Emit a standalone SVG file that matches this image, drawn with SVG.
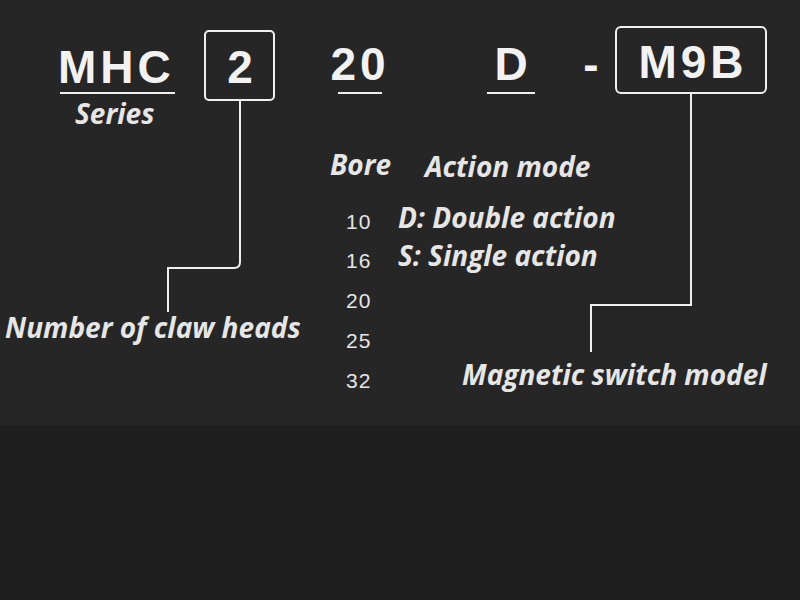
<svg xmlns="http://www.w3.org/2000/svg" width="800" height="600" viewBox="0 0 800 600">
<style>
.c{font-family:"Liberation Sans",Arial,sans-serif;font-weight:bold;fill:#f2f2f2;font-size:46px;letter-spacing:4px}
.l{font-family:"Open Sans","Liberation Sans",sans-serif;font-weight:bold;font-style:italic;fill:#e6e6e6;font-size:28px}
.n{font-family:"Liberation Sans",Arial,sans-serif;fill:#e6e6e6;font-size:21px;letter-spacing:1px}
.ln{stroke:#f0f0f0;stroke-width:2;fill:none}
</style>
<rect width="800" height="600" fill="#1f1f1f"/>
<rect width="800" height="425" fill="#262626"/>
<g id="code">
<text class="c" x="58" y="83">MHC</text>
<line class="ln" x1="60" y1="93" x2="175" y2="93"/>
<rect class="ln" x="205" y="31" width="69" height="69" rx="4"/>
<text class="c" x="242" y="83" text-anchor="middle">2</text>
<text class="c" x="360" y="80" text-anchor="middle">20</text>
<line class="ln" x1="338" y1="93" x2="382" y2="93"/>
<text class="c" x="513" y="80" text-anchor="middle">D</text>
<line class="ln" x1="487" y1="93" x2="535" y2="93"/>
<text class="c" x="593" y="80" text-anchor="middle">-</text>
<rect class="ln" x="616" y="27" width="150" height="66" rx="5"/>
<text class="c" x="693" y="78" text-anchor="middle">M9B</text>
</g>
<g id="connectors">
<path class="ln" d="M240 100 V262 Q240 268 234 268 H168 V312"/>
<path class="ln" d="M691 93 V305 H591 V352"/>
</g>
<g id="labels">
<text class="l" x="75" y="124">Series</text>
<text class="l" x="330" y="175">Bore</text>
<text class="l" x="425" y="177">Action mode</text>
<text class="n" x="346" y="229">10</text>
<text class="n" x="346" y="268">16</text>
<text class="n" x="346" y="308">20</text>
<text class="n" x="346" y="348">25</text>
<text class="n" x="346" y="388">32</text>
<text class="l" x="398" y="228">D: Double action</text>
<text class="l" x="398" y="266">S: Single action</text>
<text class="l" x="5" y="338">Number of claw heads</text>
<text class="l" x="462" y="385">Magnetic switch model</text>
</g>
</svg>
